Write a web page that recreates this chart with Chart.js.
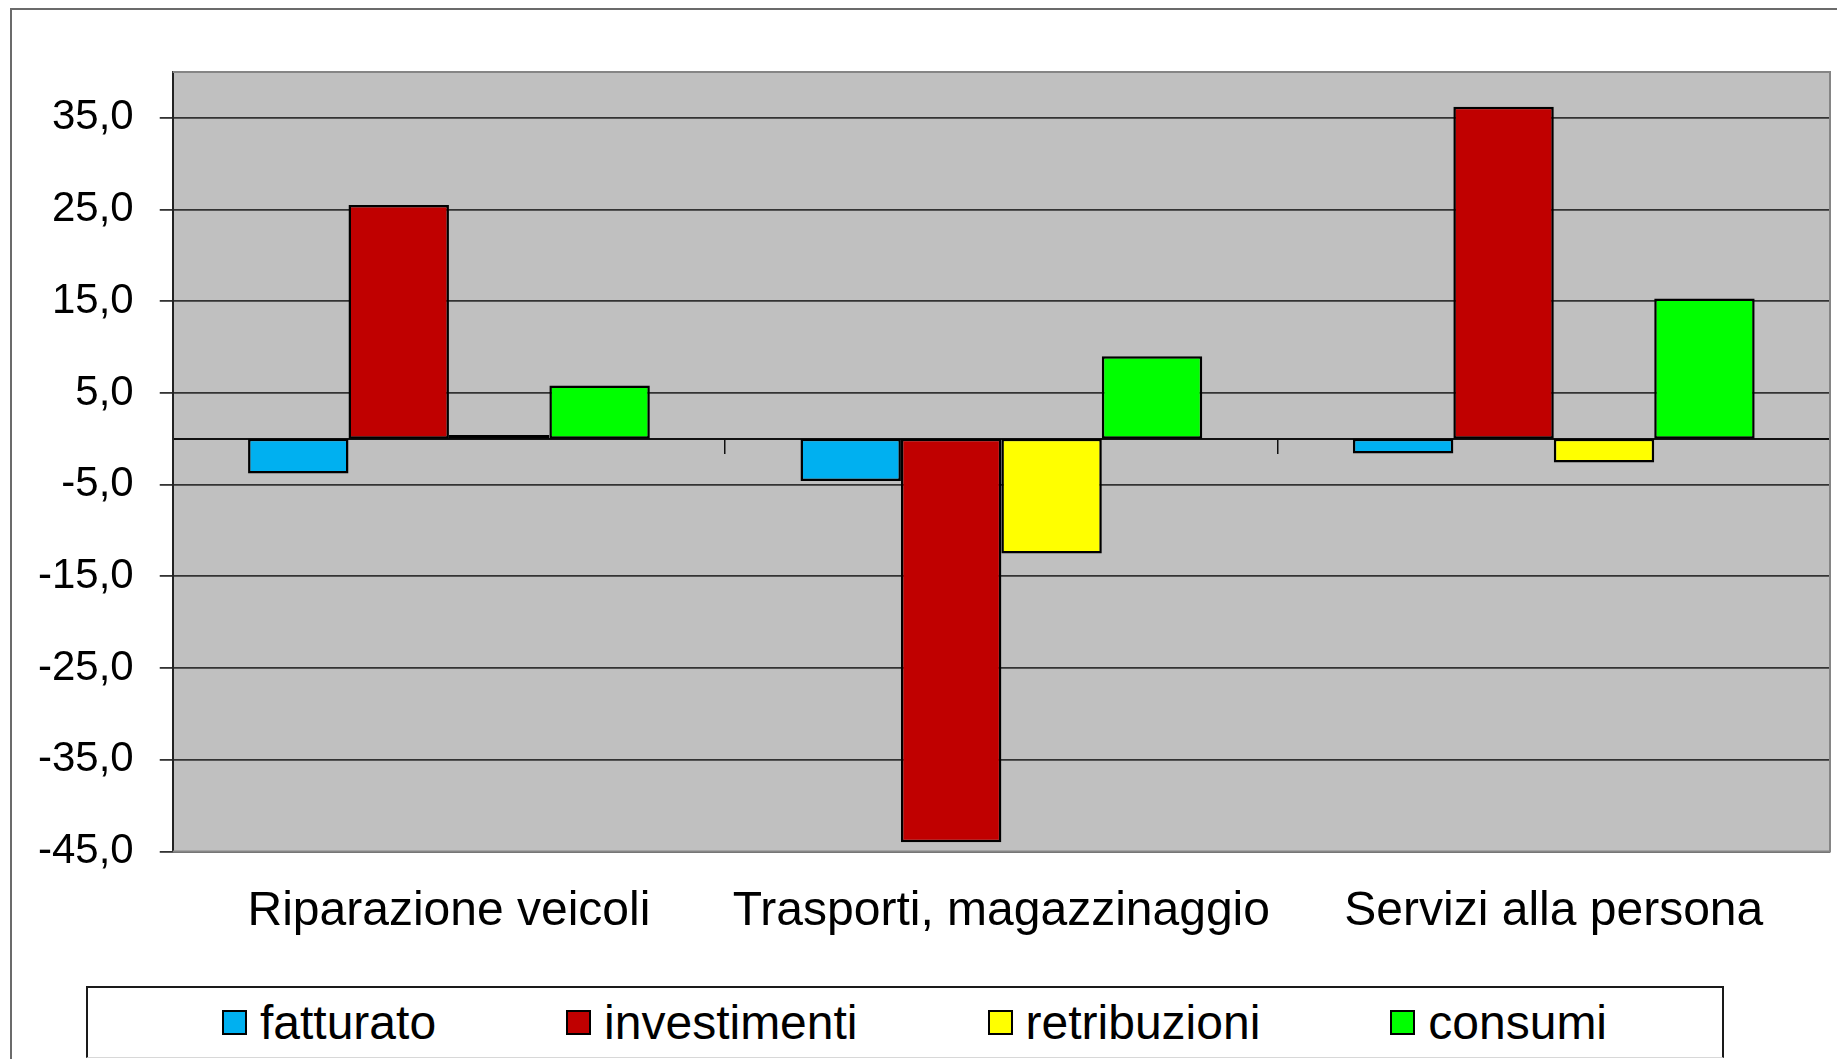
<!DOCTYPE html>
<html lang="it">
<head>
<meta charset="utf-8">
<title>Variazioni per settore</title>
<script src="https://cdn.jsdelivr.net/npm/chart.js@4.4.1/dist/chart.umd.min.js"></script>
<style>
  html, body { margin: 0; padding: 0; background: #fff; overflow: hidden; }
  #contenitore { position: relative; width: 1837px; height: 1059px; overflow: hidden; }
  #grafico { position: absolute; left: 0; top: 0; }
  /* cornice esterna del grafico, esce dal bordo a destra e in basso */
  #cornice { position: absolute; left: 10px; top: 8px; width: 1900px; height: 1100px;
    border-left: 2px solid #6b6b6b; border-top: 2px solid #6b6b6b; }
  #legenda { position: absolute; left: 86px; top: 986px; width: 1638px; height: 72px;
    box-sizing: border-box; border: 2px solid #1a1a1a; border-bottom: 1px solid #d8d8d8;
    background: #fff; display: flex; align-items: center; justify-content: center;
    gap: 130px; padding-left: 19px;
    font-family: "Liberation Sans", Arial, sans-serif; font-size: 48px; line-height: 48px; color: #000; }
  .voce { display: flex; align-items: center; gap: 13px; }
  .quadratino { width: 25px; height: 25px; box-sizing: border-box; border: 2px solid #000; }
</style>
</head>
<body>
<div id="contenitore">
  <div id="cornice"></div>
  <canvas id="grafico" width="1837" height="1059"></canvas>
  <div id="legenda"></div>
</div>
<script>
// Dati (variazioni %)
const categorie = ['Riparazione veicoli', 'Trasporti, magazzinaggio', 'Servizi alla persona'];
const fatturato = [-3.8, -4.6, -1.6];
const investimenti = [25.5, -44.0, 36.2];
const retribuzioni = [0.4, -12.5, -2.6];
const consumi = [5.8, 9.0, 15.3];

const nomiSerie = ['fatturato', 'investimenti', 'retribuzioni', 'consumi'];
const valoriSerie = [fatturato, investimenti, retribuzioni, consumi];
const coloriSerie = ['#00b0f0', '#c00000', '#ffff00', '#00ff00'];

// Tacche dell'asse verticale
const tacchePunti = [-45, -35, -25, -15, -5, 5, 15, 25, 35];
const asseMin = -45;
const asseMax = 40;

Chart.defaults.font.family = '"Liberation Sans", Arial, sans-serif';
Chart.defaults.color = '#000';

//Sfondo grigio dell'area del grafico
const sfondoArea = {
  id: 'sfondoArea',
  beforeDraw(chart) {
    const { ctx, chartArea: a } = chart;
    ctx.save();
    ctx.fillStyle = '#c0c0c0';
    ctx.fillRect(a.left, a.top, a.right - a.left, a.bottom - a.top);
    ctx.restore();
  }
};

//Bordo grigio sopra, a destra e sotto l'area del grafico
const bordoArea = {
  id: 'bordoArea',
  afterDraw(chart) {
    const { ctx, chartArea: a } = chart;
    ctx.save();
    ctx.strokeStyle = '#858585';
    ctx.lineWidth = 2;
    ctx.beginPath();
    ctx.moveTo(a.left, a.top);
    ctx.lineTo(a.right, a.top);
    ctx.lineTo(a.right, a.bottom);
    ctx.lineTo(a.left, a.bottom);
    ctx.stroke();
    ctx.restore();
  }
};

const ctx = document.getElementById('grafico');
new Chart(ctx, {
  type: 'bar',
  data: {
    labels: categorie,
    datasets: nomiSerie.map((nome, i) => ({
      label: nome,
      data: valoriSerie[i],
      backgroundColor: coloriSerie[i],
      borderColor: '#000',
      borderWidth: 2.5,
      borderSkipped: false,
      categoryPercentage: 4 / 5.5,
      barPercentage: 1
    }))
  },
  options: {
    responsive: false,
    animation: false,
    layout: { padding: { left: 12, top: 72, right: 7, bottom: 86 } },
    plugins: {
      legend: { display: false },
      tooltip: { enabled: false }
    },
    scales: {
      x: {
        grid: { display: false, drawTicks: false },
        border: { display: false },
        ticks: { font: { size: 48 }, color: '#000', padding: 32, maxRotation: 0, autoSkip: false }
      },
      // asse delle categorie che passa per lo zero
      x2: {
        type: 'category',
        position: { y: 0 },
        offset: true,
        grid: { offset: true, drawOnChartArea: false, tickLength: 14, color: '#111', lineWidth: 1.5 },
        border: { display: true, color: '#111', width: 2 },
        ticks: { display: false }
      },
      y: {
        min: asseMin,
        max: asseMax,
        afterBuildTicks: (asse) => {
          asse.ticks = tacchePunti.map(v => ({ value: v }));
        },
        grid: { color: '#333', lineWidth: 1.8, tickLength: 13 },
        border: { display: true, color: '#222', width: 2 },
        ticks: {
          font: { size: 42 },
          color: '#000',
          padding: 26,
          callback: (v) => v.toFixed(1).replace('.', ',')
        }
      }
    }
  },
  plugins: [sfondoArea, bordoArea]
});

//Legenda costruita con le stesse serie
const legenda = document.getElementById('legenda');
nomiSerie.forEach((nome, i) => {
  const voce = document.createElement('div');
  voce.className = 'voce';
  const quadratino = document.createElement('span');
  quadratino.className = 'quadratino';
  quadratino.style.background = coloriSerie[i];
  const testo = document.createElement('span');
  testo.textContent = nome;
  voce.appendChild(quadratino);
  voce.appendChild(testo);
  legenda.appendChild(voce);
});
</script>
</body>
</html>
